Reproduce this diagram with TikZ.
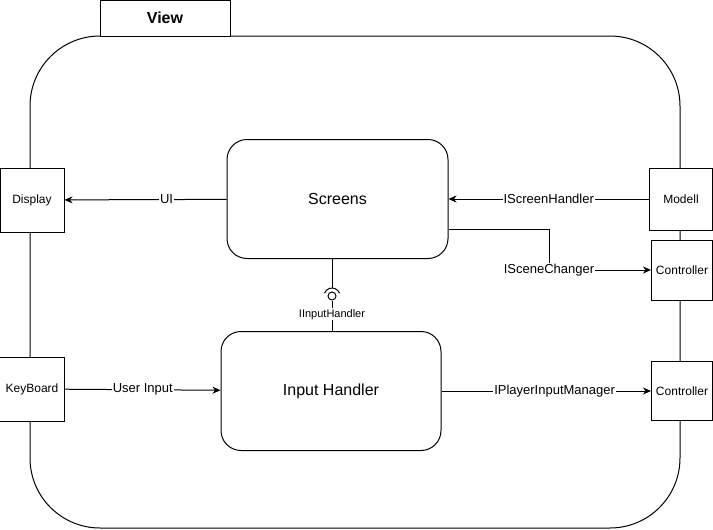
\documentclass[tikz,border=0pt]{standalone}
\usepackage{fontspec}
\setmainfont{Liberation Sans}
\usetikzlibrary{arrows.meta}

\begin{document}
\begin{tikzpicture}[x=1pt,y=-1pt,line width=1pt,
	box/.style={shape=rectangle,draw=black,fill=white,font=\fontsize{12}{14}\selectfont},
	comp/.style={shape=rectangle,draw=black,fill=white,rounded corners=20pt,minimum width=220pt,minimum height=119pt,font=\fontsize{16}{18}\selectfont},
	lbl/.style={fill=white,inner sep=1pt,font=\fontsize{13}{15}\selectfont},
	arr/.style={-{Stealth[length=8pt,width=7pt,inset=2.5pt]}}]
	
	\useasboundingbox (0,0) rectangle (713,530);
	
	\node[draw=black,rounded corners=70pt,minimum width=650pt,minimum height=492pt] (view) at (355,282) {};
	\node[draw=black,fill=white,minimum width=130pt,minimum height=36pt,font=\fontsize{16}{18}\selectfont\bfseries] (tab) at (165,18) {View};
	
	\node[box,minimum width=64pt,minimum height=64pt] (display) at (32,200) {Display};
	\node[box,minimum width=65pt,minimum height=64pt] (keyboard) at (32,389) {KeyBoard};
	\node[box,minimum width=63pt,minimum height=62pt] (modell) at (681,199) {Modell};
	\node[box,minimum width=61pt,minimum height=60pt] (ctrlA) at (682,270) {Controller};
	\node[box,minimum width=61pt,minimum height=59pt] (ctrlB) at (682,391) {Controller};
	
	\node[comp,minimum width=221pt] (screens) at (337.5,199) {Screens};
	\node[comp] (input) at (331,391) {Input Handler};
	
	\node[shape=circle,draw=black,inner sep=0pt,minimum size=8pt] (ball) at (332,296) {};
	\coordinate (sock) at (332,288);
	\coordinate (chgA) at (549,229);
	\coordinate (chg) at (549,270);
	
	\path[arr] (screens) edge node[lbl,pos=0.37] {UI} (display);
	\path[arr] (modell) edge node[lbl] {IScreenHandler} (screens);
	\path[arr] (keyboard) edge node[lbl] {User Input} (input);
	\path[arr] (input.east |- ctrlB) edge node[lbl,pos=0.54] {IPlayerInputManager} (ctrlB);
	\draw (screens.east |- chgA) -- (chgA) -- (chg);
	\draw[arr] (chg) -- (ctrlA);
	\node[lbl] at (chg) {ISceneChanger};
	
	\draw (screens.south -| sock) -- (sock);
	\draw (ball.center) ++(20:8pt) arc[start angle=20,end angle=160,radius=8pt];
	\path (ball) edge node[lbl,pos=0.45,font=\fontsize{11}{13}\selectfont] {IInputHandler} (input.north -| ball);
\end{tikzpicture}
\end{document}
